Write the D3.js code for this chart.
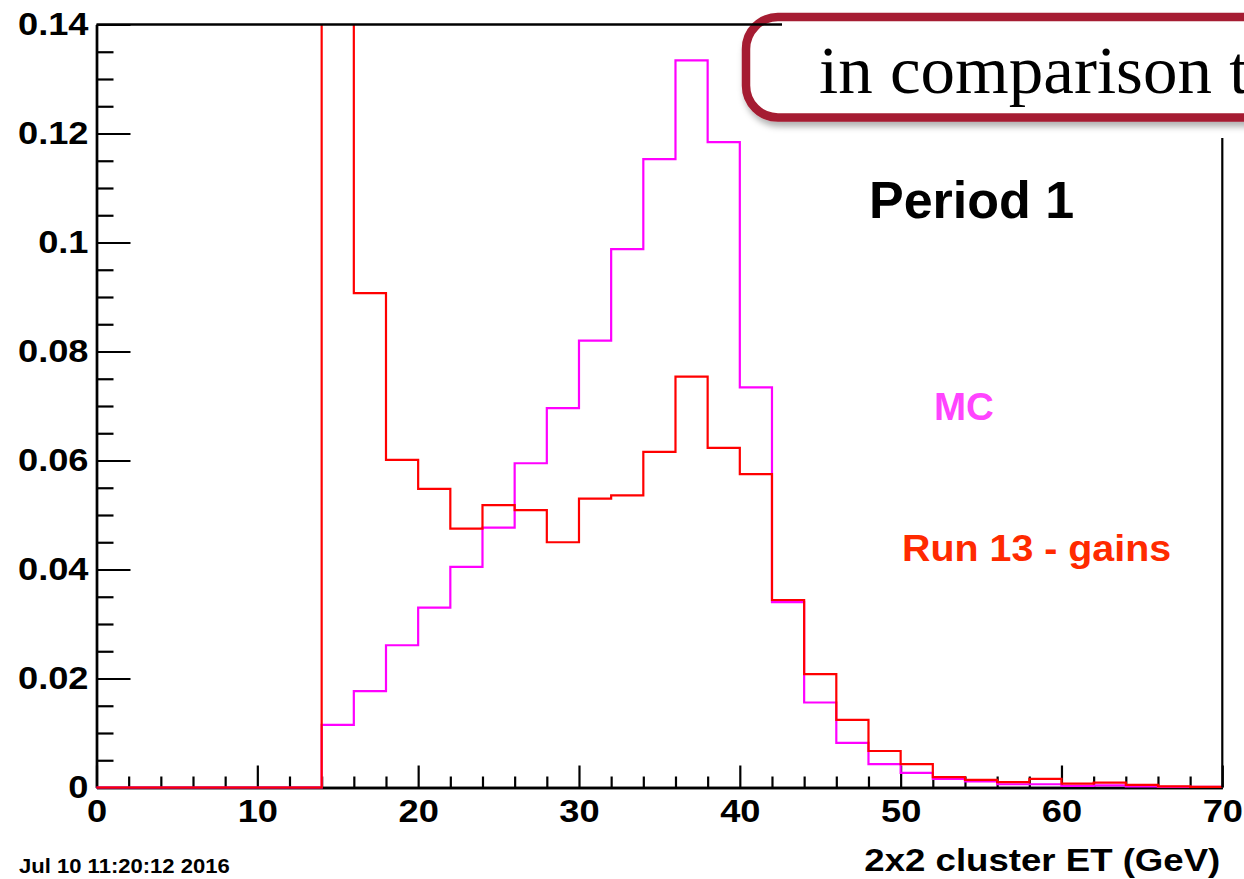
<!DOCTYPE html>
<html>
<head>
<meta charset="utf-8">
<script src="https://cdn.jsdelivr.net/npm/d3@7"></script>
<style>
  html, body { margin: 0; padding: 0; background: #fff; }
  svg { display: block; }
</style>
</head>
<body>
<svg id="chart" width="1244" height="879"></svg>
<script>
// ---------------- data ----------------
const binEdges = [0,2,4,6,8,10,12,14,16,18,20,22,24,26,28,30,32,34,36,38,40,42,44,46,48,50,52,54,56,58,60,62,64,66,68,70];
// MC (magenta), one value per 2 GeV bin
const mcValues = [0,0,0,0,0,0,0,0.0115,0.0177,0.0261,0.0330,0.0405,0.0477,0.0595,0.0696,0.0820,0.0988,0.1153,0.1334,0.1184,0.0734,0.0340,0.0156,0.0082,0.0043,0.0027,0.0016,0.0011,0.0006,0.0006,0.0003,0.0004,0.0002,0.0001,0.0001];
// Run 13 - gains (red); the 14-16 bin is off scale
const runValues = [0,0,0,0,0,0,0,0.30,0.0907,0.0601,0.0548,0.0475,0.0518,0.0509,0.0450,0.0530,0.0536,0.0616,0.0754,0.0623,0.0575,0.0344,0.0208,0.0124,0.0067,0.0043,0.0019,0.0014,0.0010,0.0016,0.0007,0.0009,0.0005,0.0002,0.0001];
const xMajorTicks = [0,10,20,30,40,50,60,70];
const xMinorTicks = [2,4,6,8,12,14,16,18,22,24,26,28,32,34,36,38,42,44,46,48,52,54,56,58,62,64,66,68];
const yMajorTicks = [0,0.02,0.04,0.06,0.08,0.10,0.12,0.14];
const yTickLabels = ["0","0.02","0.04","0.06","0.08","0.1","0.12","0.14"];
const yMinorTicks = [0.005,0.01,0.015,0.025,0.03,0.035,0.045,0.05,0.055,0.065,0.07,0.075,0.085,0.09,0.095,0.105,0.11,0.115,0.125,0.13,0.135];
const xTitle = "2x2 cluster ET (GeV)";
const dateText = "Jul 10 11:20:12 2016";
const periodText = "Period 1";
const mcLabel = "MC";
const runLabel = "Run 13 - gains";
const boxText = "in comparison t";

// ---------------- layout ----------------
const svg = d3.select("#chart");
const L = 96.5, R = 1222.3, T = 24.5, B = 787.5;
const x = d3.scaleLinear().domain([0,70]).range([L,R]);
const y = d3.scaleLinear().domain([0,0.14]).range([B,T]);
const sans = "'Liberation Sans', Arial, Helvetica, sans-serif";
const STRETCH = 1.15;

function stretch(sel, k) {
  sel.each(function() {
    const len = this.getComputedTextLength();
    d3.select(this).attr("textLength", len * k).attr("lengthAdjust", "spacingAndGlyphs");
  });
}

const defs = svg.append("defs");
defs.append("clipPath").attr("id","plotClip")
  .append("rect").attr("x", L - 2).attr("y", T).attr("width", R - L + 4).attr("height", B - T + 3);
const f = defs.append("filter").attr("id","shadow").attr("x","-10%").attr("y","-20%").attr("width","130%").attr("height","160%");
f.append("feDropShadow").attr("dx",2).attr("dy",5).attr("stdDeviation",3)
  .attr("flood-color","#000").attr("flood-opacity",0.3);

// ---------------- histograms ----------------
function stepPoints(vals) {
  const pts = vals.map((v,i) => [binEdges[i], v]);
  pts.push([binEdges[binEdges.length-1], vals[vals.length-1]]);
  return pts;
}
const line = d3.line().x(d => x(d[0])).y(d => y(d[1])).curve(d3.curveStepAfter);
const hist = svg.append("g").attr("clip-path","url(#plotClip)");
hist.append("path").attr("d", line(stepPoints(mcValues)))
  .attr("fill","none").attr("stroke","#ff00ff").attr("stroke-width",2.2);

// ---------------- axes ----------------
const axisColor = "#000";
const xMaj = svg.append("g").attr("transform",`translate(0,${B})`)
  .call(d3.axisBottom(x).tickValues(xMajorTicks).tickSizeInner(-22).tickSizeOuter(0).tickPadding(12).tickFormat(d3.format("d")));
const xMin = svg.append("g").attr("transform",`translate(0,${B})`)
  .call(d3.axisBottom(x).tickValues(xMinorTicks).tickSizeInner(-11).tickSizeOuter(0).tickFormat(""));
const yMaj = svg.append("g").attr("transform",`translate(${L},0)`)
  .call(d3.axisLeft(y).tickValues(yMajorTicks).tickSizeInner(-34).tickSizeOuter(0).tickPadding(8)
    .tickFormat((d,i) => yTickLabels[i]));
const yMin = svg.append("g").attr("transform",`translate(${L},0)`)
  .call(d3.axisLeft(y).tickValues(yMinorTicks).tickSizeInner(-17).tickSizeOuter(0).tickFormat(""));

[xMaj,xMin,yMaj,yMin].forEach(g => {
  g.selectAll("path.domain").attr("stroke",axisColor).attr("stroke-width",2.4);
  g.selectAll(".tick line").attr("stroke",axisColor).attr("stroke-width",2.2);
});
xMaj.selectAll("text").attr("font-family",sans).attr("font-weight","bold").attr("font-size",31.5).attr("fill","#000");
yMaj.selectAll("text").attr("font-family",sans).attr("font-weight","bold").attr("font-size",31.5).attr("fill","#000");
stretch(xMaj.selectAll("text"), STRETCH);
stretch(yMaj.selectAll("text"), STRETCH);

hist.raise();
svg.append("g").attr("clip-path","url(#plotClip)")
  .append("path").attr("d", line(stepPoints(runValues)))
  .attr("fill","none").attr("stroke","#ff0000").attr("stroke-width",2.2);

svg.append("line").attr("x1",R).attr("x2",R).attr("y1",138).attr("y2",B)
  .attr("stroke","#000").attr("stroke-width",2.2);

// ---------------- texts ----------------
const xt = svg.append("text").attr("x",R - 2).attr("y",871).attr("text-anchor","end")
  .attr("font-family",sans).attr("font-weight","bold").attr("font-size",30.5).attr("fill","#000").text(xTitle);
stretch(xt, 1.2);
const dt = svg.append("text").attr("x",19).attr("y",873)
  .attr("font-family",sans).attr("font-weight","bold").attr("font-size",19.5).attr("fill","#000").text(dateText);
stretch(dt, 1.13);

svg.append("text").attr("x",869).attr("y",218)
  .attr("font-family",sans).attr("font-weight","bold").attr("font-size",52).attr("fill","#000").text(periodText);
svg.append("text").attr("x",934).attr("y",420)
  .attr("font-family",sans).attr("font-weight","bold").attr("font-size",38.5).attr("fill","#ff44ff").text(mcLabel);
const rl = svg.append("text").attr("x",902).attr("y",561)
  .attr("font-family",sans).attr("font-weight","bold").attr("font-size",37.5).attr("fill","#ff2a00").text(runLabel);
stretch(rl, 1.05);

// ---------------- overlay box ----------------
svg.append("rect").attr("x",783).attr("y",0).attr("width",480).attr("height",136).attr("fill","#fff");
svg.append("rect").attr("x",746).attr("y",17).attr("width",600).attr("height",100.5)
  .attr("rx",32).attr("ry",32)
  .attr("fill","#fff").attr("stroke","#a51c30").attr("stroke-width",8.5)
  .attr("filter","url(#shadow)");
svg.append("line").attr("x1",L).attr("x2",782).attr("y1",T).attr("y2",T)
  .attr("stroke","#000").attr("stroke-width",2.4);
const bt = svg.append("text").attr("x",819).attr("y",93)
  .attr("font-family","'Liberation Serif', 'Times New Roman', serif").attr("font-size",68).attr("fill","#000").text(boxText);
stretch(bt, 1.015);
</script>
</body>
</html>
